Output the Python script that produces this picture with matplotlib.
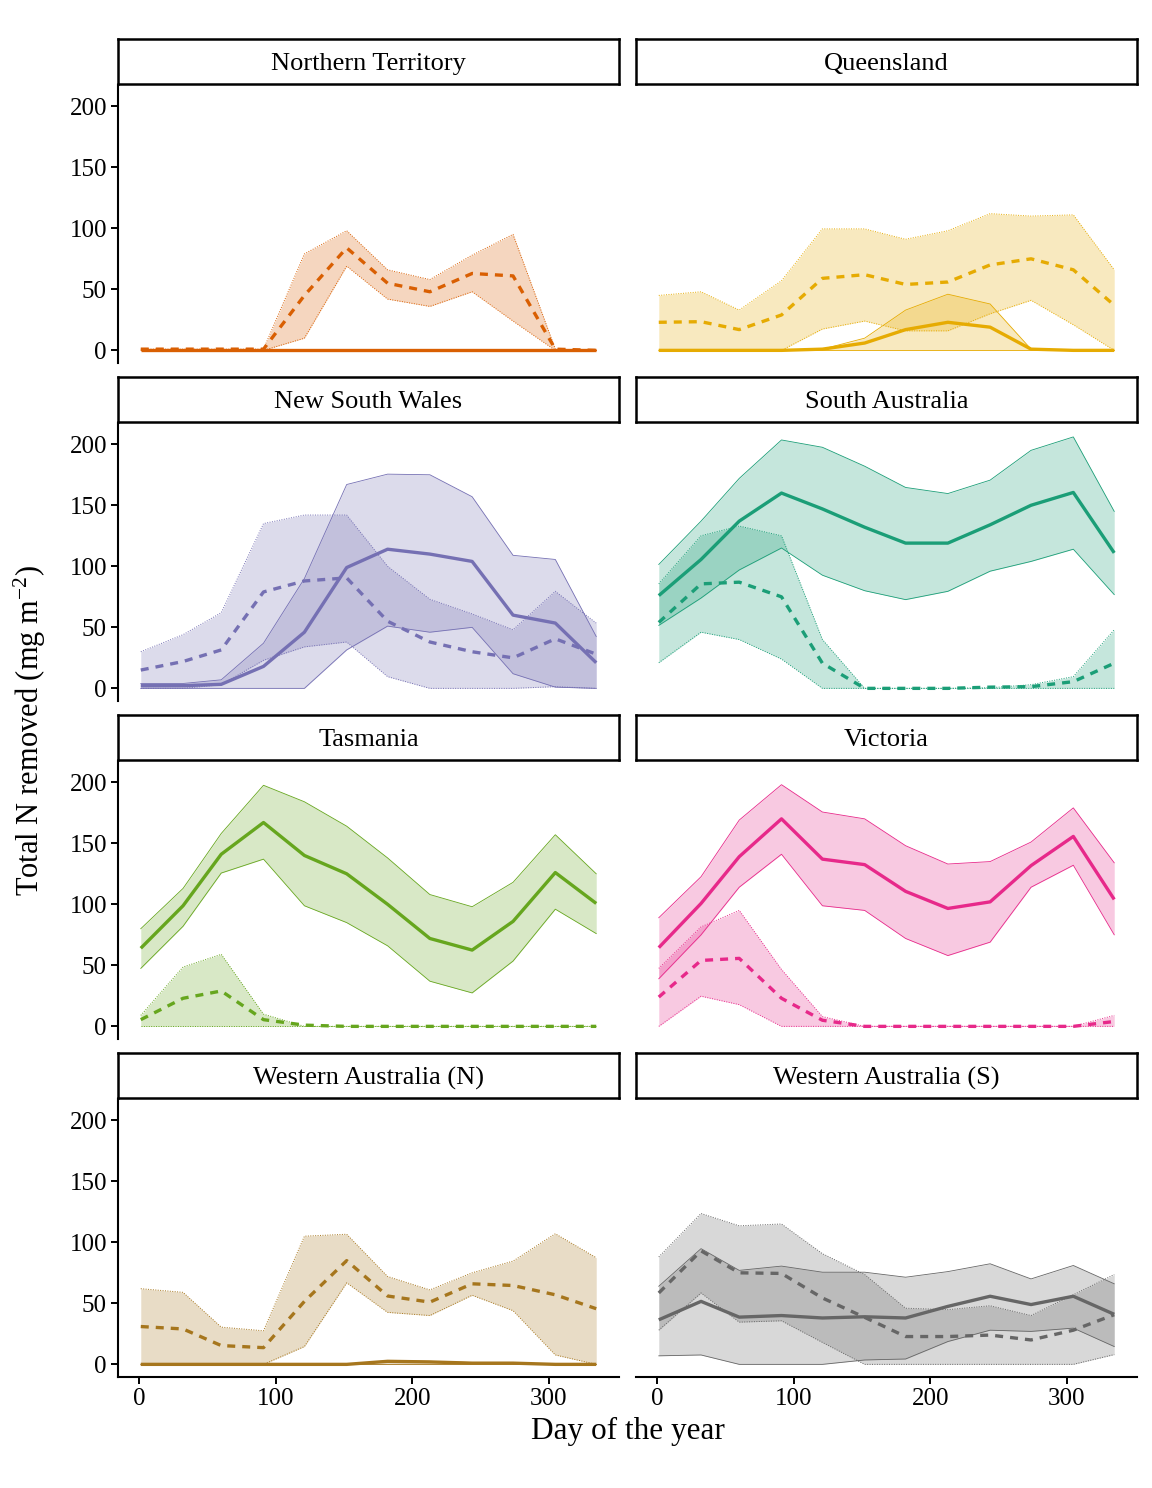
import matplotlib
matplotlib.use("Agg")
import matplotlib.pyplot as plt

plt.rcParams['font.family'] = ['Liberation Serif', 'DejaVu Serif']
plt.rcParams['mathtext.fontset'] = 'custom'
plt.rcParams['mathtext.rm'] = 'Liberation Serif'
plt.rcParams['mathtext.it'] = 'Liberation Serif:italic'

days = [1, 32, 60, 91, 121, 152, 182, 213, 244, 274, 305, 335]

regions = ["Northern Territory", "Queensland", "New South Wales", "South Australia",
           "Tasmania", "Victoria", "Western Australia (N)", "Western Australia (S)"]
colors = ["#D95F02", "#E6AB02", "#7570B3", "#1B9E77",
          "#66A61E", "#E7298A", "#A6761D", "#666666"]

# Northern Territory
nt_solid = [0, 0, 0, 0, 0, 0, 0, 0, 0, 0, 0, 0]
nt_solid_lo = [0, 0, 0, 0, 0, 0, 0, 0, 0, 0, 0, 0]
nt_solid_hi = [0, 0, 0, 0, 0, 0, 0, 0, 0, 0, 0, 0]
nt_dash = [1, 1, 1, 1, 45, 84, 55, 48, 63, 61, 1, 0]
nt_dash_lo = [0, 0, 0, 0, 10, 69, 42, 36, 48, 24, 0, 0]
nt_dash_hi = [1, 1, 1, 1, 79, 98, 66, 58, 78, 95, 1, 0]

# Queensland
qld_solid = [0, 0, 0, 0, 1, 6, 17, 23, 19, 1, 0, 0]
qld_solid_lo = [0, 0, 0, 0, 0, 0, 0, 0, 0, 0, 0, 0]
qld_solid_hi = [0, 0, 0, 0, 1, 10, 33, 46, 38, 1, 0, 0]
qld_dash = [23, 23.5, 17, 29, 59, 62, 54, 56, 70, 75, 66, 37]
qld_dash_lo = [0, 0, 0, 0, 17.5, 24, 16, 16, 30, 41, 21, 0]
qld_dash_hi = [45, 48, 33, 57, 99.5, 99.5, 91, 98, 112, 110, 111, 66]

# New South Wales
nsw_solid = [2.2, 2.2, 3.3, 18, 46, 99, 114, 110, 104, 60, 53.5, 21]
nsw_solid_lo = [0, 0, 0, 0, 0, 31.5, 51, 46, 50, 12, 1, 0]
nsw_solid_hi = [4, 4, 7, 37, 90, 167, 175.5, 175, 157, 109, 105.6, 42.5]
nsw_dash = [15, 22, 31.5, 79, 88, 90.5, 55, 38, 30, 25, 40.6, 28]
nsw_dash_lo = [0, 0, 3, 23, 34, 38, 9.6, 0, 0, 0, 1.4, 0]
nsw_dash_hi = [30, 44, 62, 135, 142, 142, 100, 73, 61, 48, 79.5, 53.5]

# South Australia
sa_solid = [76, 105.6, 137, 160, 147, 132, 119, 119, 134, 150, 160.5, 111]
sa_solid_lo = [51.6, 74, 97, 115, 92.7, 80, 72.7, 79.5, 96, 104, 114, 76.8]
sa_solid_hi = [101.5, 137, 172, 203.5, 197.5, 182, 164.6, 159.6, 170.6, 195, 206, 145]
sa_dash = [54, 85.6, 87, 75, 20.6, 0, 0, 0, 1, 1.4, 5.5, 20.6]
sa_dash_lo = [21, 46, 40, 24, 0, 0, 0, 0, 0, 0, 0, 0]
sa_dash_hi = [85.6, 125, 133, 125, 40, 0, 0, 0, 0.5, 3, 9.6, 48]

# Tasmania
tas_solid = [64, 98.8, 141, 167, 140, 125, 100, 72, 62.5, 86, 126, 100.7]
tas_solid_lo = [47.5, 82, 125.6, 137, 98.8, 85, 66, 37, 27.4, 53.5, 96, 76]
tas_solid_hi = [80, 113, 158, 197.5, 184, 164, 138, 108, 98, 118, 157, 125]
tas_dash = [5.5, 23, 29, 5.5, 1, 0, 0, 0, 0, 0, 0, 0]
tas_dash_lo = [0, 0, 0, 0, 0, 0, 0, 0, 0, 0, 0, 0]
tas_dash_hi = [9, 48.6, 59, 10, 0, 0, 0, 0, 0, 0, 0, 0]

# Victoria
vic_solid = [64.5, 100.7, 139, 170, 137, 132.5, 110.6, 96.6, 102, 131.7, 155.6, 104]
vic_solid_lo = [39, 75, 114, 141, 98.8, 95, 72, 58, 69, 114, 132, 75]
vic_solid_hi = [89, 122.6, 169, 198, 175.6, 170, 148, 133, 135, 151, 179, 134]
vic_dash = [24, 54, 55.7, 23, 5, 0, 0, 0, 0, 0, 0, 4]
vic_dash_lo = [0, 24.7, 17.8, 0, 0, 0, 0, 0, 0, 0, 0, 0]
vic_dash_hi = [47.5, 81.5, 95, 46.6, 8, 0, 0, 0, 0, 0, 0, 9]

# Western Australia (N)
wan_solid = [0, 0, 0, 0, 0, 0, 2.5, 2, 1, 1, 0, 0]
wan_solid_lo = [0, 0, 0, 0, 0, 0, 0, 0, 0, 0, 0, 0]
wan_solid_hi = [0, 0, 0, 0, 0, 0, 3, 2.5, 1.5, 1.5, 0, 0]
wan_dash = [31, 29, 15.4, 13.7, 51.6, 85, 56, 51, 66, 64.6, 57, 45.6]
wan_dash_lo = [0, 0, 0, 0, 14.6, 66.8, 42.6, 40, 56.6, 44, 7.7, 0]
wan_dash_hi = [62, 59, 30.5, 27.5, 105, 106.6, 72, 61, 75, 84.6, 107, 87.4]

# Western Australia (S)
was_solid = [36.5, 51.6, 38.7, 40, 38, 39, 38, 47.5, 55.8, 49, 55.8, 41]
was_solid_lo = [7, 7.7, 0, 0, 0, 3.6, 4.4, 18.7, 28, 27, 29.7, 14.6]
was_solid_hi = [64, 94.8, 77, 80.5, 75.5, 75.5, 71.4, 76, 82.4, 70, 81, 66]
was_dash = [58.5, 93, 75, 74.5, 54.4, 38.5, 22.8, 22.8, 24, 20, 28, 40.7]
was_dash_lo = [28, 58.5, 34.6, 35.7, 18, 0, 0, 0, 0, 0, 0, 8]
was_dash_hi = [88, 123.6, 113.5, 115, 90.7, 73.6, 46, 44.8, 48, 40, 57, 73.6]

series = [
    (nt_solid, nt_solid_lo, nt_solid_hi, nt_dash, nt_dash_lo, nt_dash_hi),
    (qld_solid, qld_solid_lo, qld_solid_hi, qld_dash, qld_dash_lo, qld_dash_hi),
    (nsw_solid, nsw_solid_lo, nsw_solid_hi, nsw_dash, nsw_dash_lo, nsw_dash_hi),
    (sa_solid, sa_solid_lo, sa_solid_hi, sa_dash, sa_dash_lo, sa_dash_hi),
    (tas_solid, tas_solid_lo, tas_solid_hi, tas_dash, tas_dash_lo, tas_dash_hi),
    (vic_solid, vic_solid_lo, vic_solid_hi, vic_dash, vic_dash_lo, vic_dash_hi),
    (wan_solid, wan_solid_lo, wan_solid_hi, wan_dash, wan_dash_lo, wan_dash_hi),
    (was_solid, was_solid_lo, was_solid_hi, was_dash, was_dash_lo, was_dash_hi),
]

yticks = [0, 50, 100, 150, 200]
xticks = [0, 100, 200, 300]

W, H = 1152, 1488
fig = plt.figure(figsize=(W / 100, H / 100), dpi=100)
fig.patch.set_facecolor("white")

col_x = [118, 636]
panel_w = 501
strip_top = [39, 377, 715, 1053]
strip_h = 45
panel_h = 278

DASH = (0, (2.4, 2.1))
DOT = (0, (1, 1.5))

for i, (name, c, s) in enumerate(zip(regions, colors, series)):
    r, col = divmod(i, 2)
    x0 = col_x[col]
    st = strip_top[r]
    pt = st + strip_h + 1
    ax = fig.add_axes([x0 / W, 1 - (pt + panel_h) / H, panel_w / W, panel_h / H])
    sax = fig.add_axes([x0 / W, 1 - (st + strip_h) / H, panel_w / W, strip_h / H])
    sax.set_xticks([])
    sax.set_yticks([])
    for sp in sax.spines.values():
        sp.set_linewidth(1.8)
        sp.set_color("black")
    sax.text(0.5, 0.44, name, ha="center", va="center", fontsize=19, transform=sax.transAxes)

    sm, slo, shi, dm, dlo, dhi = s
    ax.fill_between(days, slo, shi, color=c, alpha=0.25, lw=0)
    ax.fill_between(days, dlo, dhi, color=c, alpha=0.25, lw=0)
    ax.plot(days, slo, color=c, lw=0.6, ls="-")
    ax.plot(days, shi, color=c, lw=0.6, ls="-")
    ax.plot(days, dlo, color=c, lw=0.7, ls=DOT)
    ax.plot(days, dhi, color=c, lw=0.7, ls=DOT)
    ax.plot(days, sm, color=c, lw=2.4, ls="-", solid_capstyle="butt")
    ax.plot(days, dm, color=c, lw=2.4, ls=DASH, dash_capstyle="butt")

    ax.set_xlim(-15.7, 351.7)
    ax.set_ylim(-10.35, 217.4)
    for sp in ["top", "right"]:
        ax.spines[sp].set_visible(False)
    ax.spines["left"].set_linewidth(1.5)
    ax.spines["bottom"].set_linewidth(1.5)
    ax.set_yticks(yticks)
    ax.set_xticks(xticks)
    ax.tick_params(axis="both", which="major", labelsize=18, length=5, width=1.4,
                   color="black", labelcolor="black", pad=3)
    if col == 1:
        ax.spines["left"].set_visible(False)
        ax.tick_params(axis="y", left=False, labelleft=False)
    if r != 3:
        ax.spines["bottom"].set_visible(False)
        ax.tick_params(axis="x", bottom=False, labelbottom=False)

fig.text(627.5 / W, 1 - 1431 / H, "Day of the year", ha="center", va="center", fontsize=22.5)
fig.text(30 / W, 1 - 731 / H, "Total N removed (mg m$^{-2}$)", ha="center", va="center",
         rotation=90, fontsize=22)

fig.savefig("out.png", dpi=100, facecolor="white")
